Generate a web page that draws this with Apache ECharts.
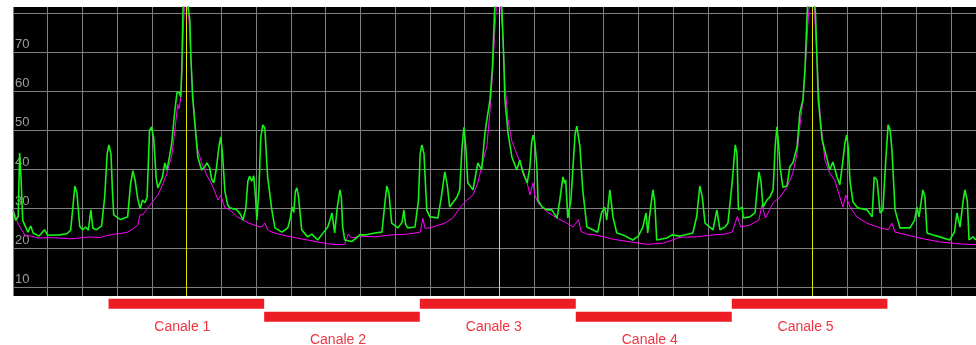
<!DOCTYPE html>
<html>
<head>
<meta charset="utf-8">
<script src="https://cdn.jsdelivr.net/npm/echarts@6/dist/echarts.min.js"></script>
<style>
  html, body { margin: 0; padding: 0; background: #fff; }
  #chart { width: 976px; height: 345px; }
</style>
</head>
<body>
<div id="chart"></div>
<script>
// x is in grid-cell units (one vertical gridline per unit), y in level units
const X_MAX = 27.72
const Y_MIN = 7.7
const Y_MAX = 81.5
const X_TICKS = Array.from({ length: 28 }, (_, i) => i)
const Y_TICKS = [10, 20, 30, 40, 50, 60, 70, 80]
const Y_LABELS = [10, 20, 30, 40, 50, 60, 70]

const centerLines = [5, 14, 23]

const channelNames = ['Canale 1', 'Canale 2', 'Canale 3', 'Canale 4', 'Canale 5']
const channelStart = [2.75, 7.23, 11.71, 16.2, 20.69]
const channelEnd   = [7.23, 11.71, 16.2, 20.69, 25.17]
const channelRow   = [0, 1, 0, 1, 0]

const greenTrace = [
  [0, 29.5], [0.08, 27], [0.15, 28], [0.19, 44.2], [0.23, 38], [0.28, 27], [0.34, 25.8], [0.43, 24], [0.51, 25.6], [0.58, 23.8],
  [0.75, 23.0], [0.91, 24.6], [1.0, 23.2], [1.34, 23.3], [1.55, 23.6], [1.66, 24.5], [1.73, 31], [1.78, 35.8], [1.84, 34], [1.92, 25.5],
  [2.0, 24.6], [2.09, 25.3], [2.17, 24.5], [2.24, 29.7], [2.3, 25], [2.4, 24.6], [2.55, 25.6], [2.64, 33], [2.71, 44], [2.76, 46.3],
  [2.82, 44], [2.86, 35], [2.90, 28.4], [3.0, 27.8], [3.1, 27.2], [3.2, 27.6], [3.30, 27.9], [3.38, 36], [3.45, 39.7], [3.52, 37],
  [3.59, 32.5], [3.66, 30], [3.73, 32.2], [3.80, 31.5], [3.86, 33], [3.93, 50], [3.99, 50.9], [4.05, 48], [4.12, 38], [4.17, 35.3],
  [4.22, 34.8], [4.30, 38], [4.37, 41.7], [4.43, 39.9], [4.50, 43], [4.57, 46.8], [4.66, 55.2], [4.72, 59.6], [4.78, 59.8], [4.83, 58.5],
  [4.86, 66], [4.89, 80], [4.93, 88], [5.0, 88], [5.04, 81.5], [5.09, 78.2], [5.12, 68.8], [5.17, 58.5], [5.26, 49.3], [5.32, 43.2],
  [5.43, 39.9], [5.52, 40.7], [5.58, 41.7], [5.66, 40.5], [5.72, 37.5], [5.78, 36.6], [5.85, 40], [5.93, 46], [5.98, 48.3], [6.03, 44],
  [6.10, 34.5], [6.18, 31], [6.24, 30.2], [6.44, 29.7], [6.55, 28.5], [6.62, 27.1], [6.70, 30], [6.76, 37], [6.81, 38.3], [6.87, 37],
  [6.93, 38.4], [6.98, 33], [7.02, 27.1], [7.08, 35], [7.13, 48], [7.19, 51.4], [7.25, 50.5], [7.33, 38.1], [7.45, 29.7], [7.54, 25.1],
  [7.74, 24.0], [7.91, 25.1], [7.98, 27.5], [8.03, 30.4], [8.08, 29], [8.13, 34.5], [8.17, 35.3], [8.22, 33], [8.31, 24.6], [8.48, 22.8],
  [8.6, 23.5], [8.77, 22.0], [8.9, 23.5], [9.06, 25.3], [9.12, 27], [9.18, 28.9], [9.26, 23.8], [9.33, 30], [9.41, 34.8], [9.45, 33],
  [9.49, 25.3], [9.55, 22.0], [9.75, 21.6], [9.88, 22.5], [9.98, 23.3], [10.13, 23.3], [10.41, 23.8], [10.62, 24.0], [10.70, 31], [10.76, 35.8],
  [10.82, 34], [10.90, 26.3], [11.08, 25.1], [11.20, 26.5], [11.25, 29.7], [11.30, 26], [11.36, 25.1], [11.57, 25.3], [11.67, 32], [11.72, 44],
  [11.77, 46.3], [11.83, 44], [11.91, 29.7], [12.00, 27.9], [12.23, 27.6], [12.33, 33], [12.43, 39.4], [12.50, 36], [12.57, 30.4], [12.66, 31.5],
  [12.78, 33.0], [12.86, 34.8], [12.92, 45], [12.98, 50.8], [13.04, 45], [13.09, 36.6], [13.24, 34.8], [13.38, 41.7], [13.49, 39.9], [13.58, 49],
  [13.64, 52.7], [13.73, 57.8], [13.8, 66], [13.86, 80], [13.92, 88], [14.0, 88], [14.07, 82], [14.12, 70], [14.16, 57.8], [14.25, 49.3],
  [14.36, 43.2], [14.50, 39.9], [14.59, 42.4], [14.68, 39.1], [14.80, 36.6], [14.88, 40.7], [14.93, 47], [14.97, 48.8], [15.02, 47], [15.08, 40.7],
  [15.11, 32.2], [15.23, 30.4], [15.37, 29.7], [15.51, 29.7], [15.66, 27.6], [15.74, 32.2], [15.83, 38.1], [15.88, 36.5], [15.91, 37.3], [15.97, 27.6],
  [16.06, 32.2], [16.12, 40.7], [16.18, 49], [16.23, 51.1], [16.32, 45.8], [16.40, 34.8], [16.52, 25.3], [16.69, 24.6], [16.83, 24.0], [16.94, 28.9],
  [17.03, 30.4], [17.09, 27.1], [17.18, 34.8], [17.27, 27.9], [17.38, 23.8], [17.56, 23.3], [17.84, 22.0], [18.0, 23], [18.13, 25.3], [18.22, 28.9],
  [18.27, 23.8], [18.35, 30], [18.42, 34.8], [18.47, 32], [18.53, 22.0], [18.82, 22.5], [18.97, 23.3], [19.20, 23.0], [19.57, 23.8], [19.68, 28],
  [19.77, 35.8], [19.84, 33], [19.92, 26.3], [20.15, 24.6], [20.26, 29.7], [20.35, 24.6], [20.49, 25.3], [20.58, 26.3], [20.70, 36.6], [20.79, 46.3],
  [20.84, 44], [20.88, 29.7], [20.99, 30.4], [21.02, 27.6], [21.21, 27.9], [21.36, 28.9], [21.42, 35], [21.47, 39.4], [21.53, 37], [21.59, 30.4],
  [21.70, 32.2], [21.79, 33.0], [21.88, 34.8], [21.94, 46], [21.99, 50.9], [22.04, 46], [22.08, 40.7], [22.16, 35.5], [22.28, 35.8], [22.36, 40.7],
  [22.45, 41.7], [22.57, 45.8], [22.65, 54.5], [22.74, 57.8], [22.8, 66], [22.86, 80], [22.92, 88], [23.02, 88], [23.1, 80], [23.18, 57.8],
  [23.29, 47.6], [23.44, 42.4], [23.51, 39.9], [23.60, 41.9], [23.72, 38.1], [23.80, 36.1], [23.89, 42.4], [23.95, 47], [24.00, 48.8], [24.05, 45],
  [24.09, 37.3], [24.18, 31.7], [24.32, 30.2], [24.58, 29.7], [24.73, 27.9], [24.79, 38.1], [24.87, 37.3], [24.96, 28.9], [25.04, 29.7], [25.12, 42],
  [25.19, 51.4], [25.25, 50], [25.30, 45.0], [25.39, 29.7], [25.53, 25.1], [25.82, 25.1], [25.95, 27], [26.02, 30.4], [26.08, 27.9], [26.19, 34.8],
  [26.25, 33], [26.31, 23.8], [26.48, 23.3], [26.68, 22.8], [26.96, 22.0], [27.1, 24], [27.17, 28.9], [27.26, 25.3], [27.35, 32], [27.40, 34.8],
  [27.47, 32], [27.52, 22.0], [27.63, 22.8], [27.72, 22.0]
]

const magentaTrace = [
  [0, 29.7], [0.08, 28], [0.15, 26], [0.25, 24.6], [0.34, 23.3], [0.5, 23], [0.75, 22.5], [1.0, 22.6], [1.34, 22.5], [1.66, 22.3],
  [1.92, 22.5], [2.2, 22.8], [2.5, 22.6], [2.64, 23.0], [2.9, 23.5], [3.07, 23.6], [3.3, 24.0], [3.45, 24.8], [3.59, 25.8], [3.66, 28.5],
  [3.73, 28.4], [3.82, 29.5], [3.91, 30.5], [3.99, 31.5], [4.08, 32.5], [4.17, 33.5], [4.30, 36], [4.43, 39], [4.57, 43.5], [4.66, 50],
  [4.74, 56.6], [4.78, 55.5], [4.83, 58.5], [4.86, 64], [4.89, 72], [4.94, 84], [5.02, 84], [5.09, 75], [5.12, 68.8], [5.17, 60],
  [5.26, 49.3], [5.32, 45], [5.43, 41.7], [5.58, 38.5], [5.66, 37.3], [5.78, 35], [5.90, 32.2], [5.98, 33.5], [6.05, 31.5], [6.10, 30.2],
  [6.24, 29.7], [6.44, 28.0], [6.62, 27.1], [6.79, 26.3], [7.02, 25.6], [7.16, 25.3], [7.25, 26.3], [7.33, 24.6], [7.45, 24.0], [7.74, 23.3],
  [8.17, 22.5], [8.48, 22.0], [8.77, 21.5], [9.06, 21.0], [9.4, 20.8], [9.55, 20.9], [9.65, 23.5], [9.75, 22.5], [9.98, 23.0], [10.4, 22.8],
  [10.9, 23.3], [11.36, 23.5], [11.72, 24.0], [11.80, 27.5], [11.86, 25], [12.0, 25.1], [12.43, 26.3], [12.66, 27.6], [12.86, 30.2], [13.04, 32.0],
  [13.24, 33.5], [13.38, 36.6], [13.58, 44], [13.64, 45.8], [13.73, 55], [13.8, 64], [13.86, 74], [13.93, 84], [14.02, 84], [14.1, 74],
  [14.16, 62], [14.25, 52.7], [14.36, 47.2], [14.50, 44], [14.68, 39.9], [14.80, 36.6], [14.88, 33.5], [14.93, 33.0], [14.97, 36.6], [15.02, 33.5],
  [15.11, 31.5], [15.37, 29.2], [15.66, 27.6], [15.94, 26.3], [16.12, 25.3], [16.28, 27.2], [16.35, 24.2], [16.52, 23.5], [16.83, 23.2], [17.27, 22.2],
  [17.79, 21.5], [18.27, 20.9], [18.73, 21.2], [19.20, 22.7], [19.68, 22.8], [20.15, 23.3], [20.49, 23.5], [20.70, 24.0], [20.85, 28], [20.95, 25.3],
  [21.21, 25.8], [21.47, 27.1], [21.56, 31], [21.66, 27.6], [21.88, 31.5], [22.08, 33.0], [22.28, 35.5], [22.45, 39.1], [22.57, 44.2], [22.65, 51],
  [22.74, 57.8], [22.82, 68], [22.9, 80], [22.96, 84], [23.05, 84], [23.12, 72], [23.18, 62], [23.24, 53], [23.37, 42.4], [23.51, 39.1],
  [23.65, 37.3], [23.80, 33.0], [23.89, 30.4], [23.97, 33.5], [24.09, 30.4], [24.29, 27.9], [24.58, 26.3], [24.96, 25.1], [25.19, 24.6], [25.30, 26.3],
  [25.39, 24.0], [25.73, 23.3], [26.1, 22.5], [26.68, 21.5], [27.26, 21.0], [27.72, 20.8]
]

const FONT = '"Liberation Sans", Arial, sans-serif'
const GRID_COLOR = '#7f7f7f'
const RED = '#ee1c25'

const channelData = channelNames.map((n, i) => [channelStart[i], channelEnd[i], channelRow[i], n])

const chart = echarts.init(document.getElementById('chart'), null, { renderer: 'canvas' })
chart.setOption({
  animation: false,
  backgroundColor: '#fff',
  grid: [
    { left: 13, right: 0, top: 7, bottom: 49, show: true, backgroundColor: '#000', borderWidth: 0 },
    { left: 13, right: 0, top: 296, height: 49 },
  ],
  xAxis: [
    {
      type: 'value', gridIndex: 0, min: 0, max: X_MAX,
      axisLine: { show: false }, axisLabel: { show: false },
      axisTick: { show: false, customValues: X_TICKS },
      splitLine: { show: true, showMinLine: true, lineStyle: { color: GRID_COLOR, width: 1 } },
    },
    {
      type: 'value', gridIndex: 1, min: 0, max: X_MAX, show: false,
    },
  ],
  yAxis: [
    {
      type: 'value', gridIndex: 0, min: Y_MIN, max: Y_MAX,
      axisLine: { show: false },
      axisTick: { show: false, customValues: Y_TICKS },
      axisLabel: {
        inside: true, customValues: Y_LABELS, margin: 2, verticalAlign: 'bottom',
        color: '#9c9c9c', fontFamily: FONT, fontSize: 13, padding: [0, 0, 1, 0],
      },
      splitLine: { show: true, lineStyle: { color: GRID_COLOR, width: 1 } },
    },
    {
      type: 'value', gridIndex: 1, min: -0.6, max: 3.17, inverse: true, show: false,
    },
  ],
  series: [
    {
      name: 'max', type: 'line', data: magentaTrace, xAxisIndex: 0, yAxisIndex: 0,
      showSymbol: false, symbol: 'none', clip: true,
      lineStyle: { color: '#ff00ff', width: 1 },
    },
    {
      name: 'live', type: 'line', data: greenTrace, xAxisIndex: 0, yAxisIndex: 0,
      showSymbol: false, symbol: 'none', clip: true,
      lineStyle: { color: '#19f019', width: 1.6 },
      markLine: {
        silent: true, symbol: 'none', label: { show: false },
        lineStyle: { color: '#e6e600', width: 1, type: 'solid' },
        data: centerLines.map(v => ({ xAxis: v })),
      },
    },
    {
      name: 'channels', type: 'custom', xAxisIndex: 1, yAxisIndex: 1, data: channelData,
      renderItem: (params, api) => {
        const a = api.coord([api.value(0), api.value(2)])
        const b = api.coord([api.value(1), api.value(2)])
        const name = channelNames[params.dataIndex]
        return {
          type: 'group',
          children: [
            { type: 'rect', shape: { x: a[0], y: a[1] - 5, width: b[0] - a[0], height: 10 }, style: { fill: RED } },
            {
              type: 'text', x: (a[0] + b[0]) / 2 - 4, y: a[1] + 23,
              style: { text: name, fill: '#ef3340', font: '14px ' + FONT, align: 'center', verticalAlign: 'middle' },
            },
          ],
        }
      },
    },
  ],
})
</script>
</body>
</html>
